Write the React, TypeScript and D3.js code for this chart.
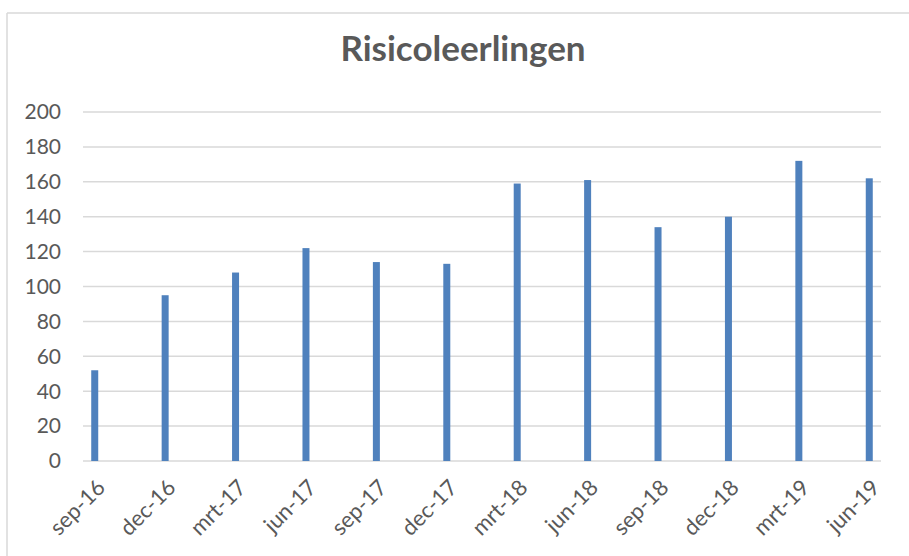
import React from "react";
import * as d3 from "d3";

const categories = ["sep-16", "dec-16", "mrt-17", "jun-17", "sep-17", "dec-17", "mrt-18", "jun-18", "sep-18", "dec-18", "mrt-19", "jun-19"];
const values = [52, 95, 108, 122, 114, 113, 159, 161, 134, 140, 172, 162];
const yTicks = [0, 20, 40, 60, 80, 100, 120, 140, 160, 180, 200];
const title = "Risicoleerlingen";

const W = 909;
const H = 556;
const FONT = "Lato, 'Open Sans', sans-serif";

export default function App() {
  const left = 83, right = 881, top = 112, bottom = 461;
  const x = d3.scalePoint<string>().domain(categories).range([left, right]).padding(1 / 6);
  const y = d3.scaleLinear().domain([0, 200]).range([bottom, top]);
  const barW = 7;
  return (
    <svg width={W} height={H} style={{ position: "absolute", left: 0, top: 0, background: "#fff" }}>
      <rect x={0} y={0} width={W} height={H} fill="#fff" />
      <line x1={7} y1={13} x2={W} y2={13} stroke="#D9D9D9" strokeWidth={1.5} />
      <line x1={7} y1={13} x2={7} y2={H} stroke="#D9D9D9" strokeWidth={1.5} />
      <text x={463} y={61} textAnchor="middle" fontFamily={FONT} fontWeight="bold" fontSize={35} fill="#595959">{title}</text>
      {yTicks.map((t) => (
        <g key={t}>
          <line x1={left} x2={right} y1={y(t)} y2={y(t)} stroke="#D9D9D9" strokeWidth={1.5} />
          <text x={61} y={y(t)} dy="0.35em" textAnchor="end" fontFamily={FONT} fontSize={21} fill="#595959">{t}</text>
        </g>
      ))}
      {categories.map((c, i) => (
        <rect key={c} x={(x(c) as number) - barW / 2} y={y(values[i])} width={barW} height={y(0) - y(values[i])} fill="#4F81BD" />
      ))}
      {categories.map((c) => {
        const cx = (x(c) as number) + 1;
        const cy = bottom + 17;
        return (
          <text key={c} x={cx} y={cy} textAnchor="end" dy="0.7em" transform={`rotate(-45 ${cx} ${cy})`} fontFamily={FONT} fontSize={22} fill="#595959">{c}</text>
        );
      })}
    </svg>
  );
}
